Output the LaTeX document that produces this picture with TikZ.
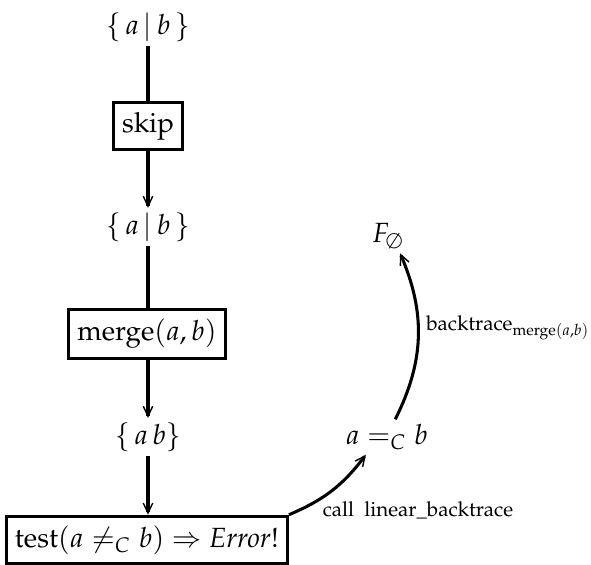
\documentclass[tikz,border=0pt]{standalone}
\usepackage[T1]{fontenc}
\usepackage{mathpazo}
\usetikzlibrary{arrows.meta}
\begin{document}
\begin{tikzpicture}[x=0.36pt,y=-0.36pt,
  state/.style={inner sep=1.5pt},
  opbox/.style={draw,line width=1.1pt,inner xsep=3pt,minimum height=15.5pt},
  flow/.style={line width=1.1pt},
  tip/.style={-{Straight Barb[length=3.6pt,width=3.4pt,line width=0.5pt]}},
  lbl/.style={font=\fontsize{7.4}{9}\selectfont,inner sep=1pt}]
\useasboundingbox (0,0) rectangle (591,565);

% states and operations along the main column
\node[state] (s1) at (148,27) {$\{\,a\,|\,b\,\}$};
\node[opbox] (skip) at (148,126) {skip};
\node[state] (s2) at (148,227) {$\{\,a\,|\,b\,\}$};
\node[opbox] (merge) at (147,334) {merge$(a,b)$};
\node[state] (s3) at (148,437) {$\{\,a\,b\}$};
\node[opbox] (test) at (147,540) {test$(a\neq_C b)\Rightarrow\textit{Error}!$};

% backtrace side
\node[state] (eq) at (387,437) {$a =_C b$};
\node[state] (F) at (388,236) {$F_\emptyset$};
\node[lbl] (call) at (418,510) {call\ \ linear\_backtrace};
\node[lbl] (bt) at (508,328) {backtrace$_{\mathrm{merge}(a,b)}$};

% main flow
\draw[flow] (s1) -- (skip);
\draw[flow,tip] (skip) -- (s2);
\draw[flow] (s2.south) -- (s2.south |- merge.north);
\draw[flow,tip] (merge.south -| s3) -- (s3.north);
\draw[flow,tip] (s3) -- (test.north -| s3);

% backtrace calls
\draw[flow,tip] (test.north east) to[bend right=15] (eq.-140);
\draw[flow,tip] (eq.65) to[bend right=25] (F.-55);
\end{tikzpicture}
\end{document}
